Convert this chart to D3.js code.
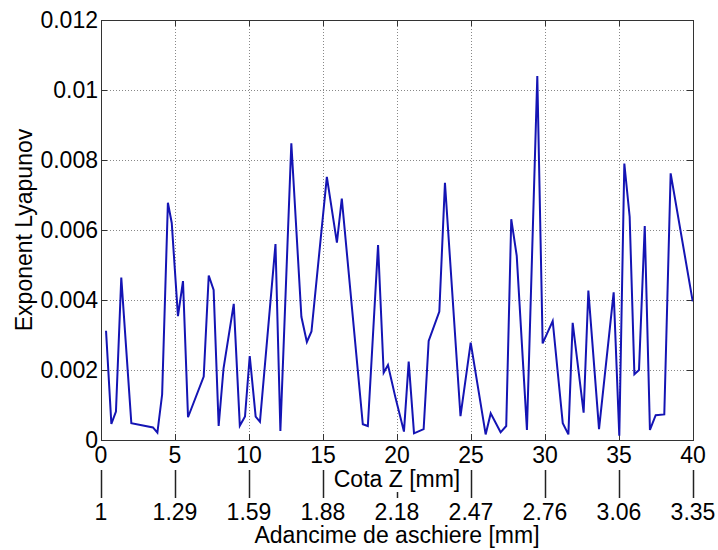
<html>
<head>
<meta charset="utf-8"/>
<script src="https://d3js.org/d3.v7.min.js"></script>
<style>
body { margin: 0; background: #fff; }
text { font-family: "Liberation Sans", Arial, sans-serif; fill: #000; }
</style>
</head>
<body>
<div id="v"></div>
<script type="text/javascript">
// Cota Z [mm] and Lyapunov exponent
var cotaZ = [0.34, 0.70, 1.01, 1.37, 2.05, 3.51, 3.81, 4.13, 4.52, 4.78, 5.2, 5.54, 5.88, 6.94, 7.28, 7.61, 7.95,
  8.28, 8.97, 9.38, 9.73, 10.05, 10.45, 10.74, 11.79, 12.12, 12.86, 13.54, 13.91, 14.22, 15.26, 15.94, 16.27,
  17.69, 18.03, 18.72, 19.1, 19.39, 19.88, 20.47, 20.79, 21.15, 21.8, 22.14, 22.86, 23.24, 24.29, 24.98, 25.99,
  26.33, 27.0, 27.38, 27.72, 28.09, 28.78, 29.48, 29.84, 30.52, 31.2, 31.58, 31.87, 32.61, 32.93, 33.65, 34.64,
  35.02, 35.36, 35.72, 36.04, 36.35, 36.74, 37.09, 37.48, 38.06, 38.49, 39.98];
var lyap = [0.00312, 0.00046, 0.00081, 0.00464, 0.00048, 0.00036, 0.00021, 0.0013, 0.00678, 0.0062, 0.00354, 0.00454, 0.00065, 0.00181, 0.0047, 0.00429, 0.0004,
  0.00205, 0.00389, 0.00041, 0.00067, 0.0024, 0.00067, 0.00052, 0.0056, 0.00026, 0.00848, 0.00352, 0.0028, 0.0031, 0.00752, 0.00564, 0.0069,
  0.00045, 0.0004, 0.00557, 0.00192, 0.00214, 0.00124, 0.00024, 0.00224, 0.00019, 0.00031, 0.00283, 0.00367, 0.00735, 0.00068, 0.00278, 0.00016,
  0.00076, 0.00022, 0.0004, 0.00631, 0.00526, 0.00029, 0.0104, 0.00276, 0.0034, 0.00048, 0.00016, 0.00335, 0.00078, 0.00427, 0.00031, 0.00422,
  0.00012, 0.0079, 0.00638, 0.00188, 0.002, 0.00611, 0.00029, 0.00071, 0.00073, 0.00762, 0.00396];
var xTicks = [0, 5, 10, 15, 20, 25, 30, 35, 40];
var yTicks = [0, 0.002, 0.004, 0.006, 0.008, 0.01, 0.012];
var depthLabels = ["1", "1.29", "1.59", "1.88", "2.18", "2.47", "2.76", "3.06", "3.35"];

(function() {
  var width = 718, height = 550;
  var left = 101, right = 693, top = 20, bottom = 440;
  var fs = 23;

  var svg = d3.select("#v").append("svg")
    .attr("width", width)
    .attr("height", height);

  var x = d3.scaleLinear().domain([0, 40]).range([left, right]);
  var y = d3.scaleLinear().domain([0, 0.012]).range([bottom, top]);

  // grid
  var grid = svg.append("g").attr("stroke", "#888").attr("stroke-dasharray", "1,2").attr("stroke-width", 1);
  grid.selectAll(".gx").data(xTicks.slice(1, -1)).enter().append("line")
    .attr("x1", function(d) { return Math.round(x(d)) + 0.5; }).attr("x2", function(d) { return Math.round(x(d)) + 0.5; })
    .attr("y1", top).attr("y2", bottom);
  grid.selectAll(".gy").data(yTicks.slice(1, -1)).enter().append("line")
    .attr("y1", function(d) { return Math.round(y(d)) + 0.5; }).attr("y2", function(d) { return Math.round(y(d)) + 0.5; })
    .attr("x1", left).attr("x2", right);

  // inward ticks
  var tk = svg.append("g").attr("stroke", "#333").attr("stroke-width", 1);
  xTicks.forEach(function(d) {
    var xx = Math.round(x(d)) + 0.5;
    tk.append("line").attr("x1", xx).attr("x2", xx).attr("y1", bottom).attr("y2", bottom - 6);
    tk.append("line").attr("x1", xx).attr("x2", xx).attr("y1", top).attr("y2", top + 6);
  });
  yTicks.forEach(function(d) {
    var yy = Math.round(y(d)) + 0.5;
    tk.append("line").attr("x1", left).attr("x2", left + 6).attr("y1", yy).attr("y2", yy);
    tk.append("line").attr("x1", right).attr("x2", right - 6).attr("y1", yy).attr("y2", yy);
  });

  // the series
  var line = d3.line()
    .x(function(d, i) { return x(cotaZ[i]); })
    .y(function(d) { return y(d); });
  svg.append("path")
    .datum(lyap)
    .attr("d", line)
    .attr("fill", "none")
    .attr("stroke", "#1414b4")
    .attr("stroke-width", 2)
    .attr("stroke-linejoin", "miter");

  svg.append("rect")
    .attr("x", left + 0.5).attr("y", top + 0.5)
    .attr("width", right - left).attr("height", bottom - top)
    .attr("fill", "none").attr("stroke", "#333").attr("stroke-width", 1);

  // tick labels
  svg.selectAll(".yl").data(yTicks).enter().append("text")
    .attr("x", left - 3)
    .attr("y", function(d) { return y(d) + 8; })
    .attr("text-anchor", "end")
    .style("font-size", fs + "px")
    .text(function(d) { return d3.format("")(+d.toFixed(3)); });

  svg.selectAll(".xl").data(xTicks).enter().append("text")
    .attr("x", function(d) { return x(d); })
    .attr("y", 463)
    .attr("text-anchor", "middle")
    .style("font-size", fs + "px")
    .text(function(d) { return d; });

  // second axis: depth
  svg.selectAll(".dt").data(xTicks).enter().append("line")
    .attr("x1", function(d) { return Math.round(x(d)) + 0.5; }).attr("x2", function(d) { return Math.round(x(d)) + 0.5; })
    .attr("y1", 470).attr("y2", 498)
    .attr("stroke", "#222").attr("stroke-width", 1.5);

  var cotaBg = svg.append("rect").attr("fill", "#fff");
  var cota = svg.append("text")
    .attr("x", x(20))
    .attr("y", 487)
    .attr("text-anchor", "middle")
    .style("font-size", fs + "px")
    .text("Cota Z [mm]");
  var bb = cota.node().getBBox();
  cotaBg.attr("x", bb.x - 2).attr("y", 468)
    .attr("width", bb.width + 4).attr("height", 24);

  svg.selectAll(".dl").data(depthLabels).enter().append("text")
    .attr("x", function(d, i) { return x(xTicks[i]); })
    .attr("y", 520)
    .attr("text-anchor", "middle")
    .style("font-size", fs + "px")
    .text(function(d) { return d; });

  svg.append("text")
    .attr("x", x(20))
    .attr("y", 543)
    .attr("text-anchor", "middle")
    .style("font-size", fs + "px")
    .text("Adancime de aschiere [mm]");

  svg.append("text")
    .attr("transform", "translate(32," + ((top + bottom) / 2) + ") rotate(-90)")
    .attr("text-anchor", "middle")
    .style("font-size", fs + "px")
    .text("Exponent Lyapunov");
})();
</script>
</body>
</html>
